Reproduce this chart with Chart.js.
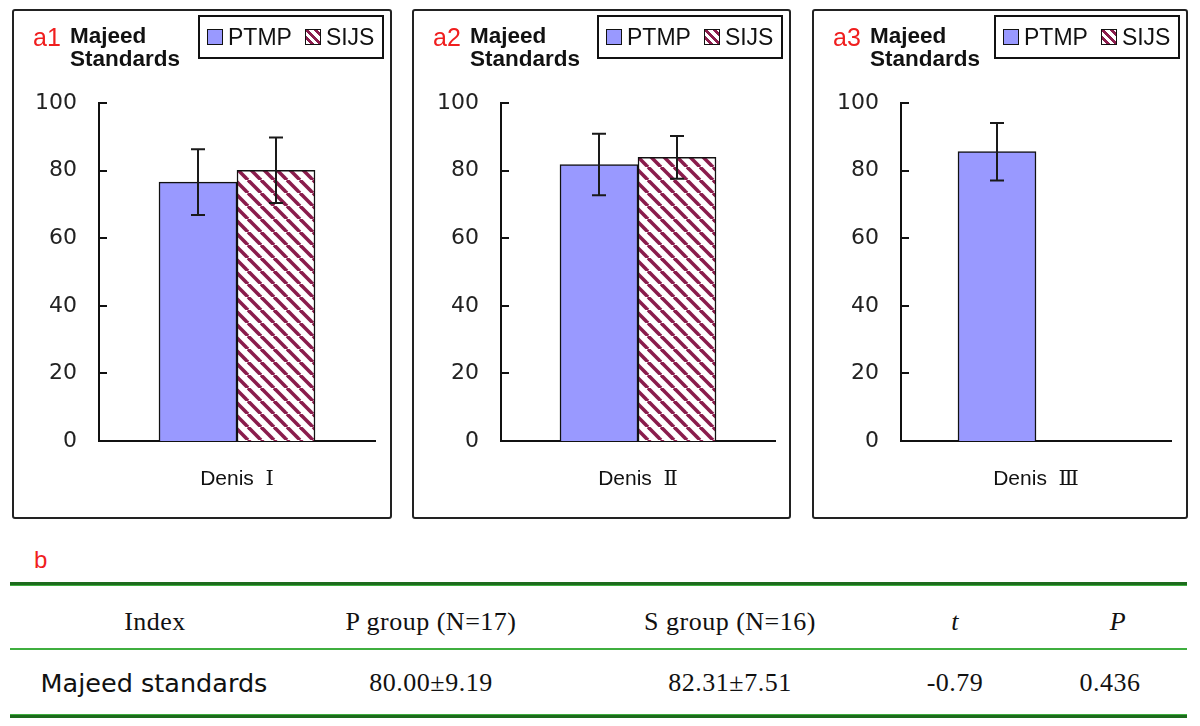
<!DOCTYPE html>
<html>
<head>
<meta charset="utf-8">
<script src="https://cdn.jsdelivr.net/npm/chart.js@4.4.1/dist/chart.umd.min.js"></script>
<style>
  body { margin: 0; background: #fff; }
  #page { position: relative; width: 1200px; height: 726px; overflow: hidden; font-family: "Liberation Sans", Arial, sans-serif; }
  .panel { position: absolute; top: 9px; height: 510px; box-sizing: border-box; border: 2px solid #222; border-radius: 3px; }
  .panel canvas { position: absolute; left: 0; top: 0; }
  .tag { position: absolute; left: 19px; top: 12px; color: #f01e1e; font-size: 25px; line-height: 28px; }
  .name { position: absolute; left: 56px; top: 13px; font-weight: bold; font-size: 22.5px; line-height: 23px; color: #111; }
  .legend { position: absolute; right: 6px; top: 4px; width: 186px; height: 44px; box-sizing: border-box; border: 2px solid #111;
            display: flex; align-items: center; padding-left: 7px; font-size: 23px; color: #111; }
  .sw { width: 14px; height: 14px; border: 1px solid #111; margin-right: 5px; flex: none; }
  .sw.ptmp { background: #9999ff; }
  .sw.sijs { background: repeating-linear-gradient(45deg, #fff 0 3px, #8a1c4c 3px 6px); margin-left: 13px; }
  .line { position: absolute; left: 10px; width: 1177px; }
  .cell { position: absolute; transform: translate(-50%, -50%); white-space: nowrap; color: #111; }
  .serif { font-family: "Liberation Serif", "Times New Roman", serif; font-size: 26px; letter-spacing: 0.5px; }
</style>
</head>
<body>
<div id="page">
  <div class="panel" id="p0" style="left:12px;width:380px;"></div>
  <div class="panel" id="p1" style="left:412px;width:379px;"></div>
  <div class="panel" id="p2" style="left:812px;width:376px;"></div>

  <div style="position:absolute;left:34px;top:546px;color:#f01e1e;font-size:24px;">b</div>
  <div class="line" style="top:582px;height:3px;background:#1d6b1d;border-bottom:1px solid #3fae3f;"></div>
  <div class="line" style="top:648px;height:2px;background:#3fae3f;"></div>
  <div class="line" style="top:714px;height:3px;background:#1d6b1d;border-top:1px solid #3fae3f;"></div>
  <div id="table"></div>
</div>
<script>
const panelTags = ["a1", "a2", "a3"];
const categories = ["Denis  Ⅰ", "Denis  Ⅱ", "Denis  Ⅲ"];
const seriesNames = ["PTMP", "SIJS"];
const ptmpMean = [76.6, 81.8, 85.6];
const ptmpSd = [9.7, 9.1, 8.5];
const sijsMean = [80.1, 83.9, null];
const sijsSd = [9.7, 6.3, null];
const yTicks = [0, 20, 40, 60, 80, 100];

const tableHeader = ["Index", "P group (N=17)", "S group (N=16)", "t", "P"];
const tableRow = ["Majeed standards", "80.00±9.19", "82.31±7.51", "-0.79", "0.436"];

// pixel layout of each panel (absolute page coords)
const panelLeft = [12, 412, 812];
const panelWidth = [380, 379, 376];
const axisX = [99, 501, 901];
const plotRight = [375, 775, 1171];
const plotTop = 103, plotBottom = 441;

function stripePattern() {
  const s = 13;
  const c = document.createElement("canvas");
  c.width = s; c.height = s;
  const g = c.getContext("2d");
  g.fillStyle = "#fff";
  g.fillRect(0, 0, s, s);
  g.strokeStyle = "#8a1c4c";
  g.lineWidth = 3.6;
  for (let k = -1; k <= 1; k++) {
    g.beginPath();
    g.moveTo(k * s, 0);
    g.lineTo(k * s + s, s);
    g.stroke();
  }
  return g.createPattern(c, "repeat");
}

const errorBars = {
  id: "errorBars",
  afterDatasetsDraw(chart) {
    const { ctx } = chart;
    const y = chart.scales.y;
    const p = chart.options.plugins.errorBars.panel;
    const sds = [ptmpSd, sijsSd];
    const means = [ptmpMean, sijsMean];
    chart.data.datasets.forEach((ds, i) => {
      const meta = chart.getDatasetMeta(i);
      const m = means[i][p], sd = sds[i][p];
      if (m == null || !meta.data[0]) return;
      const x = meta.data[0].x;
      const top = y.getPixelForValue(m + sd);
      const bot = y.getPixelForValue(m - sd);
      ctx.save();
      ctx.strokeStyle = "#1a1a1a";
      ctx.lineWidth = 2;
      ctx.beginPath();
      ctx.moveTo(x, top); ctx.lineTo(x, bot);
      ctx.moveTo(x - 7, top); ctx.lineTo(x + 7, top);
      ctx.moveTo(x - 7, bot); ctx.lineTo(x + 7, bot);
      ctx.stroke();
      ctx.restore();
    });
  }
};

// tick marks pointing into the plot
const innerTicks = {
  id: "innerTicks",
  afterDraw(chart) {
    const { ctx } = chart;
    const y = chart.scales.y;
    const x0 = chart.chartArea.left;
    ctx.save();
    ctx.strokeStyle = "#111";
    ctx.lineWidth = 2;
    y.ticks.forEach((t) => {
      const py = Math.round(y.getPixelForValue(t.value));
      ctx.beginPath();
      ctx.moveTo(x0, py);
      ctx.lineTo(x0 + 8, py);
      ctx.stroke();
    });
    ctx.restore();
  }
};

const pattern = stripePattern();

panelTags.forEach((tag, p) => {
  const panel = document.getElementById("p" + p);
  const innerLeft = panelLeft[p] + 2;
  const innerTop = 9 + 2;
  const innerW = panelWidth[p] - 4;
  const innerH = 510 - 4;

  panel.innerHTML = `
    <div class="tag">${tag}</div>
    <div class="name">Majeed<br>Standards</div>
    <div class="legend"><span class="sw ptmp"></span>${seriesNames[0]}<span class="sw sijs"></span>${seriesNames[1]}</div>`;

  const canvas = document.createElement("canvas");
  canvas.width = innerW;
  canvas.height = innerH;
  panel.insertBefore(canvas, panel.firstChild);

  new Chart(canvas, {
    type: "bar",
    data: {
      labels: [categories[p]],
      datasets: [
        { label: seriesNames[0], data: [ptmpMean[p]], backgroundColor: "#9999ff", borderColor: "#111", borderWidth: 1.5, barThickness: 78 },
        { label: seriesNames[1], data: [sijsMean[p]], backgroundColor: pattern, borderColor: "#111", borderWidth: 1.5, barThickness: 78 }
      ]
    },
    options: {
      responsive: false,
      animation: false,
      layout: { padding: { left: 0, top: plotTop - innerTop, right: innerW - (plotRight[p] - innerLeft), bottom: 0 } },
      plugins: {
        legend: { display: false },
        tooltip: { enabled: false },
        errorBars: { panel: p }
      },
      scales: {
        x: {
          grid: { display: false },
          border: { color: "#111", width: 2 },
          ticks: { color: "#111", padding: 18, font: { family: "'Liberation Sans', 'DejaVu Serif'", size: 21 } },
          afterFit: (s) => { s.height = innerH - (plotBottom - innerTop); }
        },
        y: {
          min: 0,
          max: 100,
          afterBuildTicks: (s) => { s.ticks = yTicks.map((v) => ({ value: v })); },
          grid: { display: false, drawTicks: false },
          border: { color: "#111", width: 2 },
          ticks: { color: "#222", padding: 22, font: { family: "DejaVu Sans", size: 22 } },
          afterFit: (s) => { s.width = axisX[p] - innerLeft; }
        }
      }
    },
    plugins: [errorBars, innerTicks]
  });
});

const colX = [155, 431, 730, 955, 1118];
const table = document.getElementById("table");
tableHeader.forEach((h, i) => {
  const d = document.createElement("div");
  d.className = "cell serif";
  d.style.left = colX[i] + "px";
  d.style.top = "622px";
  if (i >= 3) d.style.fontStyle = "italic";
  d.textContent = h;
  table.appendChild(d);
});
tableRow.forEach((v, i) => {
  const d = document.createElement("div");
  d.className = "cell";
  d.style.left = (i === 0 ? 154 : i === 4 ? 1110 : colX[i]) + "px";
  d.style.top = "683px";
  if (i === 0) {
    d.style.fontFamily = "DejaVu Sans";
    d.style.fontSize = "25.5px";
  } else {
    d.classList.add("serif");
  }
  d.textContent = v;
  table.appendChild(d);
});
</script>
</body>
</html>
